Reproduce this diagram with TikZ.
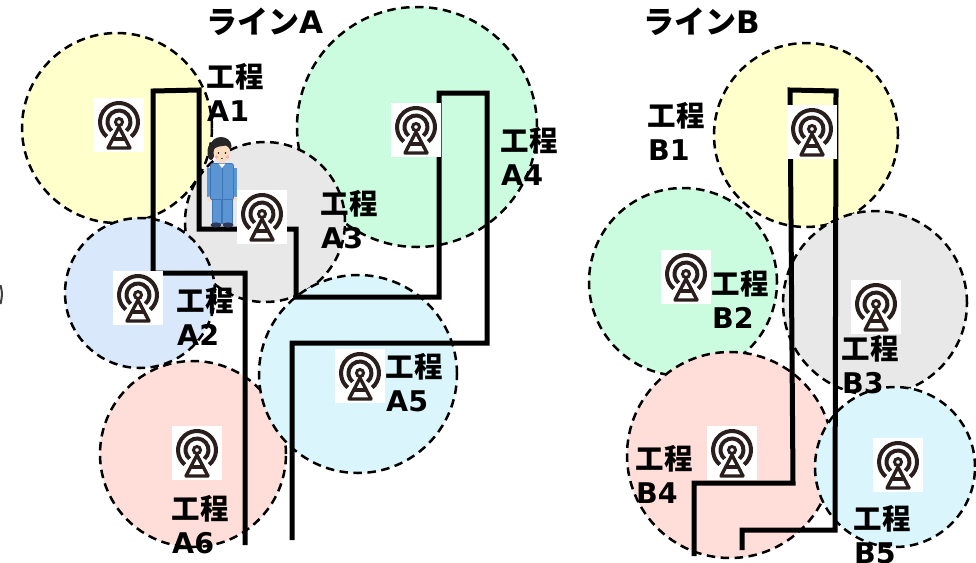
\documentclass[tikz,border=0pt]{standalone}
\usepackage{fontspec}
\newfontfamily\jpfont{Noto Sans CJK JP}
\newfontfamily\latinfont{DejaVu Sans}
\definecolor{zyellow}{HTML}{FFFFCC}
\definecolor{zgreen}{HTML}{CCFCDF}
\definecolor{zgrey}{HTML}{E8E8E8}
\definecolor{zblue}{HTML}{DAE8FC}
\definecolor{zpink}{HTML}{FFDED9}
\definecolor{zcyan}{HTML}{DAF5FC}
\definecolor{iconink}{HTML}{2A1F1D}
\definecolor{skin}{HTML}{FADCC0}
\definecolor{hair}{HTML}{262626}
\definecolor{suit}{HTML}{5B95D3}
\definecolor{suitdark}{HTML}{3F74B5}
\definecolor{shoe}{HTML}{2F3A5A}
\newcommand\kotei[4]{%
  \node[lbl] (t-#1) at (#2-1.5,#3) {工程};
  \node[lbl] (n-#1) at (#2-1,#3+34) {\latinfont\bfseries #4};}
\tikzset{
  antenna/.pic={
    \begin{scope}[draw=iconink, line width=4pt]
      \draw (0,-3) ++(-50:19pt) arc[start angle=-50, end angle=230, radius=19pt];
      \draw (0,-3) ++(-50:11.5pt) arc[start angle=-50, end angle=230, radius=11.5pt];
      \draw[line width=3pt] (0,-3) circle[radius=3.5pt];
      \draw[line width=3.4pt, line join=round] (0,2) -- (-11,23) -- (11,23) -- cycle;
      \draw[line width=3.4pt] (-6,14) -- (6,14);
    \end{scope}
  }
}
\begin{document}
\begin{tikzpicture}[x=1pt, y=-1pt,
  zone/.style={circle, draw=black, line width=2.5pt, dash pattern=on 8.5pt off 5.5pt,
               inner sep=0pt, outer sep=0pt},
  route/.style={draw=black, line width=5pt, line join=miter},
  iconbox/.style={fill=white, minimum width=50pt, minimum height=54pt, inner sep=0pt},
  lbl/.style={font=\jpfont\bfseries\fontsize{28.5}{34}\selectfont, inner sep=0pt, anchor=base west},
  ttl/.style={font=\jpfont\bfseries\fontsize{31}{36}\selectfont, inner sep=0pt, anchor=base west},
]
\useasboundingbox (0,0) rectangle (976,562);

% coverage zones, line A
\node[zone, fill=zgreen,  minimum size=240pt] (z-a4) at (417,127) {};
\node[zone, fill=zgrey,   minimum size=160pt] (z-a3) at (265,222) {};
\node[zone, fill=zyellow, minimum size=190pt] (z-a1) at (117,128) {};
\node[zone, fill=zblue,   minimum size=150pt] (z-a2) at (140,293) {};
\node[zone, fill=zpink,   minimum size=186pt] (z-a6) at (193,454) {};
\node[zone, fill=zcyan,   minimum size=198pt] (z-a5) at (358,374) {};

% coverage zones, line B
\node[zone, fill=zgreen,  minimum size=188pt] (z-b2) at (683,282) {};
\node[zone, fill=zyellow, minimum size=184pt] (z-b1) at (806,135) {};
\node[zone, fill=zgrey,   minimum size=184pt] (z-b3) at (875,303) {};
\node[zone, fill=zpink,   minimum size=206pt] (z-b4) at (730,455) {};
\node[zone, fill=zcyan,   minimum size=160pt] (z-b5) at (895,467) {};

% edge mark
\draw[line width=2pt, black!75] (0.5,285) .. controls (2.5,294) .. (0.5,304);

% routes
\draw[route] (245,545) -- (245,273) -- (153,273) -- (153,91) -- (199,90)
  -- (199,229) -- (296,229) -- (296,297) -- (439,297) -- (439,93)
  -- (487,93) -- (487,343) -- (292,343) -- (292,540);
\draw[route] (694,556) -- (694,483) -- (793,483) -- (790,90) -- (836,91)
  -- (835,530) -- (742,530) -- (742,550);

% worker
\begin{scope}
  \fill[hair] (211,152) ellipse[x radius=3.5pt, y radius=8pt];
  \fill[hair] (221,146) ellipse[x radius=10.5pt, y radius=9pt];
  \fill[skin] (222,153) ellipse[x radius=8.5pt, y radius=8.5pt];
  \fill[hair] (212.5,149) .. controls (215,139) and (229,139) .. (231,148)
    -- (226,145.5) -- (219,146.5) -- cycle;
  \fill[black] (218.5,153) circle[radius=0.9pt];
  \fill[black] (225.5,153) circle[radius=0.9pt];
  \fill[red!35] (216.5,157) circle[radius=1.6pt];
  \fill[red!35] (227.5,157) circle[radius=1.6pt];
  \draw[black!70, line width=0.5pt] (221,158.5) -- (223,158.5);
  \fill[skin] (219,160) rectangle (225,165);
  \fill[suit] (207,168) rectangle (211.5,197);
  \fill[suit] (232.5,168) rectangle (237,197);
  \fill[skin] (209.2,199) circle[radius=2.4pt];
  \fill[skin] (234.8,199) circle[radius=2.4pt];
  \fill[suit, draw=suitdark, line width=0.6pt, rounded corners=2pt] (210.5,163.5) rectangle (233.5,200);
  \draw[suitdark, line width=0.6pt] (222,166) -- (222,200);
  \fill[white] (218.5,163.5) -- (222,168) -- (225.5,163.5) -- cycle;
  \fill[suit, draw=suitdark, line width=0.6pt] (212,199) rectangle (221.6,223);
  \fill[suit, draw=suitdark, line width=0.6pt] (222.4,199) rectangle (232,223);
  \fill[shoe] (216,225) ellipse[x radius=5.5pt, y radius=2.6pt];
  \fill[shoe] (228,225) ellipse[x radius=5.5pt, y radius=2.6pt];
\end{scope}

% antenna icons
\foreach \nm/\px/\py in {a1/119/125, a3/262/217, a4/416/130, a2/138/298,
                         a5/360/376, a6/197/453, b1/812/132, b2/686/277,
                         b3/876/307, b4/732/453, b5/898/465} {
  \node[iconbox] (i-\nm) at (\px,\py) {};
  \pic at (i-\nm) {antenna};
}

% titles
\node[ttl] (title-a) at (206,33) {ライン{\latinfont\bfseries A}};
\node[ttl] (title-b) at (643,33) {ライン{\latinfont\bfseries B}};

% process labels
\kotei{a1}{208}{87}{A1}
\kotei{a3}{322}{214}{A3}
\kotei{a4}{502}{151}{A4}
\kotei{a2}{178}{311}{A2}
\kotei{a5}{387}{377}{A5}
\kotei{a6}{173}{519}{A6}
\kotei{b1}{649}{126}{B1}
\kotei{b2}{713}{294}{B2}
\kotei{b3}{843}{359}{B3}
\kotei{b4}{637}{469}{B4}
\kotei{b5}{855}{529}{B5}
\end{tikzpicture}
\end{document}
